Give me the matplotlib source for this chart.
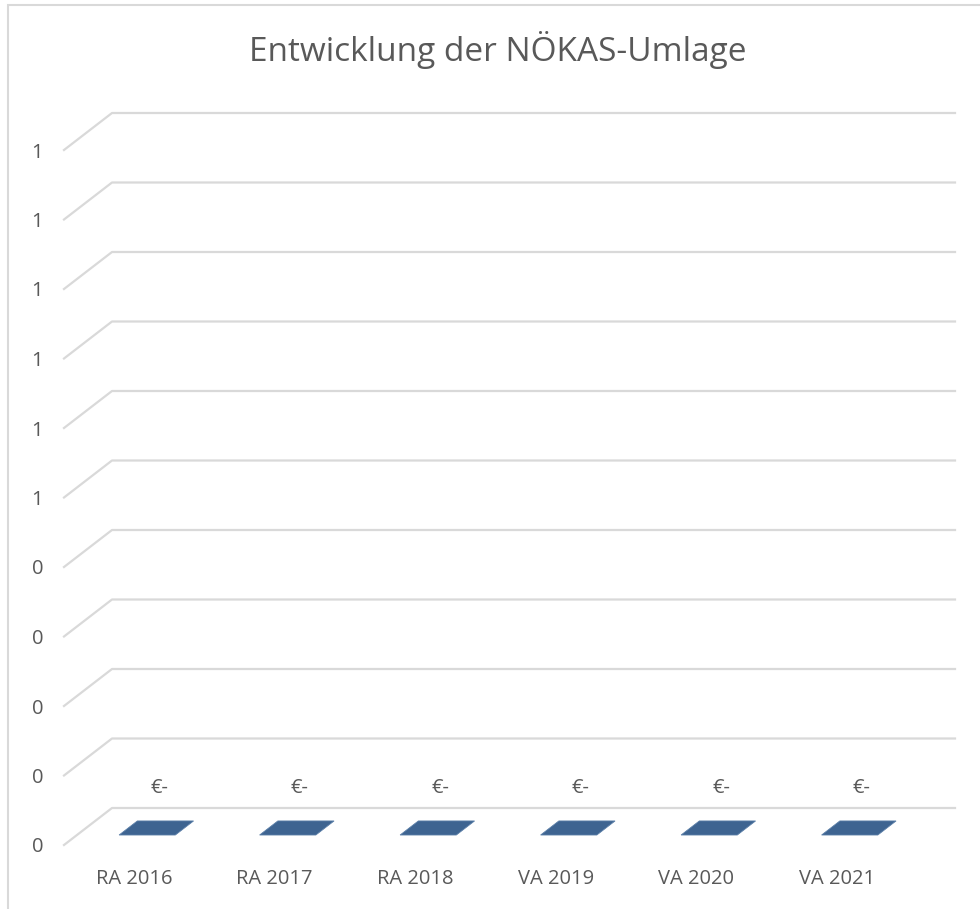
import numpy as np
import matplotlib.pyplot as plt
from matplotlib.patches import Polygon, Rectangle
from matplotlib.lines import Line2D
from matplotlib.transforms import IdentityTransform
from matplotlib.ticker import FuncFormatter

plt.rcParams['font.family'] = ['Open Sans', 'DejaVu Sans']

# data
categories = ['RA 2016', 'RA 2017', 'RA 2018', 'VA 2019', 'VA 2020', 'VA 2021']
values = [0, 0, 0, 0, 0, 0]
value_labels = ['€-', '€-', '€-', '€-', '€-', '€-']
y_ticks = [0.0, 0.1, 0.2, 0.3, 0.4, 0.5, 0.6, 0.7, 0.8, 0.9, 1.0]

text_col = '#595959'
grid_col = '#d9d9d9'
bar_col = '#3e6491'

fig = plt.figure(figsize=(9.8, 9.09), dpi=100)
fig.patch.set_facecolor('white')

# outer chart frame (cut off at right / bottom like the screenshot)
fig.add_artist(Rectangle((8 / 980, -0.05), 1.1, 1 - 5 / 909 + 0.05,
                         transform=fig.transFigure, fill=False,
                         edgecolor=grid_col, lw=1.5))

ax = fig.add_axes([64 / 980, 64 / 909, 843 / 980, 695 / 909])
ax.set_xlim(-0.5, len(categories) - 0.5)
ax.set_ylim(0, 1)
for s in ax.spines.values():
    s.set_visible(False)
ax.patch.set_visible(False)

# oblique depth offset of the back wall, in pixels
depth = np.array([48.0, 37.0])


def proj(x, v, d):
    return ax.transData.transform((x, v)) + d * depth


# gridlines: diagonal on the side wall, then horizontal on the back wall
x0, x1 = ax.get_xlim()
for v in y_ticks:
    p0 = proj(x0, v, 0)
    p1 = proj(x0, v, 1)
    p2 = proj(x1, v, 1)
    fig.add_artist(Line2D([p0[0], p1[0], p2[0]], [p0[1], p1[1], p2[1]],
                          transform=IdentityTransform(), color=grid_col, lw=1.6))

# bars (all zero -> only the flat top face is visible)
bw = 0.4
d_front, d_back = 0.27, 0.65
for i, v in enumerate(values):
    pts = [proj(i - bw / 2, v, d_front), proj(i + bw / 2, v, d_front),
           proj(i + bw / 2, v, d_back), proj(i - bw / 2, v, d_back)]
    fig.add_artist(Polygon(pts, closed=True, transform=IdentityTransform(),
                           facecolor=bar_col, edgecolor='#5b7fa8', lw=0.6))
    c = proj(i, v, (d_front + d_back) / 2)
    fig.text(c[0] + 3, c[1] + 40, value_labels[i], transform=IdentityTransform(),
             ha='center', va='center', fontsize=14.5, color=text_col)

ax.set_xticks(range(len(categories)))
ax.set_xticklabels(categories)
ax.set_yticks(y_ticks)
ax.yaxis.set_major_formatter(FuncFormatter(lambda v, p: str(int(np.floor(v + 0.5 + 1e-9)))))
ax.tick_params(axis='both', length=0, labelsize=14.5, labelcolor=text_col)
ax.tick_params(axis='y', pad=15)
ax.tick_params(axis='x', pad=17)

fig.text(498 / 980, 1 - 50 / 909, 'Entwicklung der NÖKAS-Umlage',
         ha='center', va='center', fontsize=24, color=text_col)

fig.savefig('out.png', dpi=100)
